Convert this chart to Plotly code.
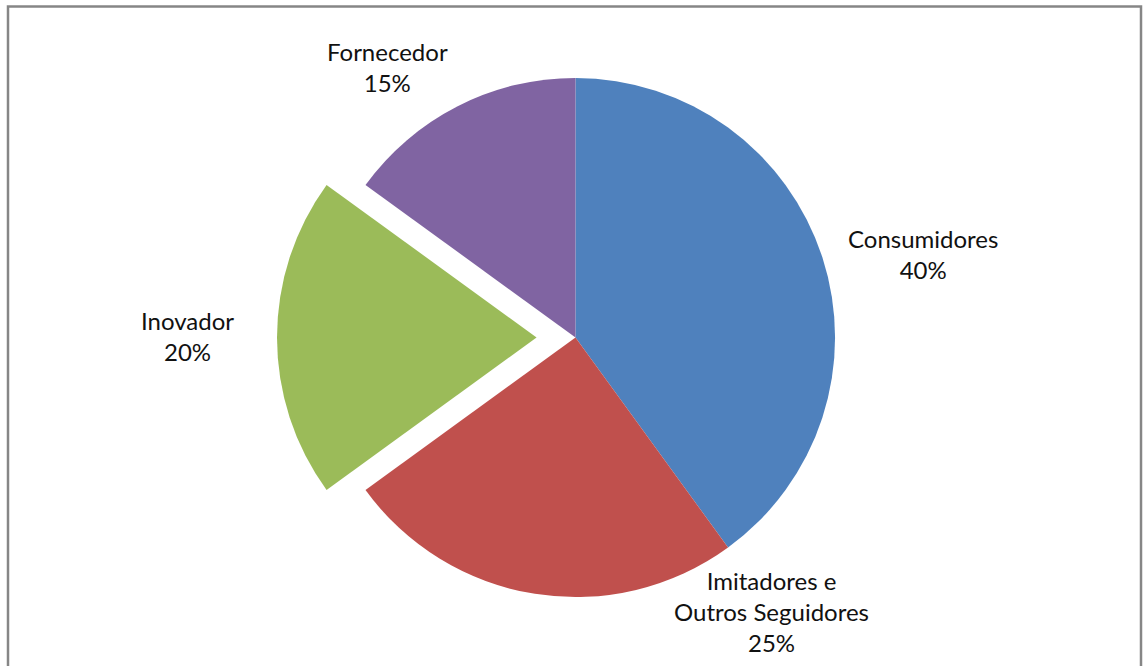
import plotly.graph_objects as go

labels = ["Consumidores", "Imitadores e Outros Seguidores", "Inovador", "Fornecedor"]
label_lines = ["Consumidores", "Imitadores e<br>Outros Seguidores", "Inovador", "Fornecedor"]
values = [40, 25, 20, 15]
colors = ["#4F81BD", "#C0504D", "#9BBB59", "#8064A2"]
pulls = [0, 0, 0.15, 0]

W, H = 1145, 666
L, R, T, B = 86, 80, 38.5, 29.5
PW, PH = W - L - R, H - T - B

def px(x):
    return (x - L) / PW

def py(y):
    return 1 - (y - T) / PH

# label centre positions (pixels) for each slice's data label
label_pos = [(923, 254), (771, 612), (187, 336), (387, 67)]

total = sum(values)
fig = go.Figure(go.Pie(
    labels=labels, values=values, sort=False, direction="clockwise", rotation=0,
    pull=pulls, marker=dict(colors=colors, line=dict(width=0)),
    textinfo="none", hoverinfo="label+percent", showlegend=False,
))

for lab, v, (x, y) in zip(label_lines, values, label_pos):
    fig.add_annotation(
        x=px(x), y=py(y), xref="paper", yref="paper", xanchor="center", yanchor="middle",
        text=f"{lab}<br>{round(100 * v / total)}%", showarrow=False, align="center",
        font=dict(family="Lato, Liberation Sans, sans-serif", size=24, color="#111111"),
    )

fig.add_shape(type="rect", xref="paper", yref="paper",
              x0=px(8), x1=px(1141), y0=py(6), y1=py(690),
              line=dict(color="#868686", width=2.5), fillcolor="rgba(0,0,0,0)")

fig.update_layout(
    width=W, height=H, margin=dict(l=L, r=R, t=T, b=B),
    paper_bgcolor="white", plot_bgcolor="white",
)
fig.write_html("out.html")
